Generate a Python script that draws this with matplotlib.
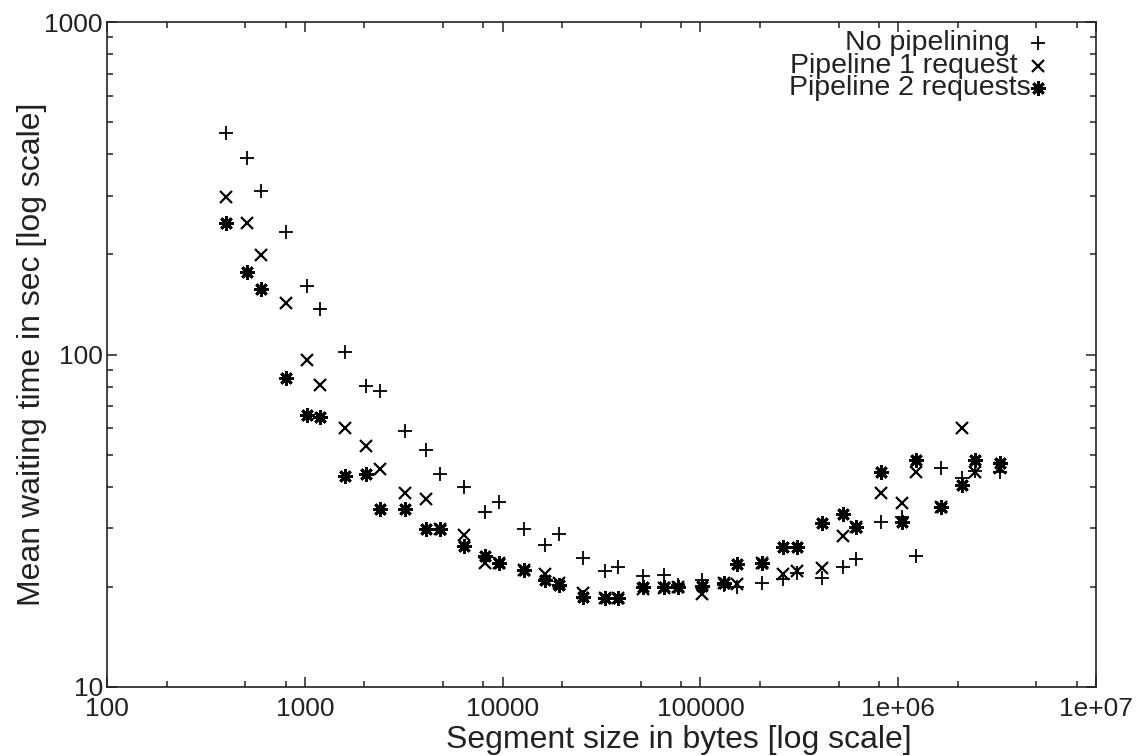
import numpy as np
import matplotlib
matplotlib.use("Agg")
import matplotlib.pyplot as plt
from matplotlib.ticker import LogLocator, NullFormatter

plt.rcParams['font.family'] = ['Liberation Sans', 'DejaVu Sans']

# segment sizes in bytes
seg_size = [400, 512, 600, 800, 1024, 1200, 1600, 2048, 2400, 3200,
            4096, 4800, 6400, 8192, 9600, 12800, 16384, 19200, 25600, 32768,
            38400, 51200, 65536, 76800, 102400, 131072, 153600, 204800, 262144, 307200,
            409600, 524288, 614400, 819200, 1048576, 1228800, 1638400, 2097152, 2457600, 3276800]

# mean waiting time (sec)
no_pipe = [463, 389, 310, 233, 161, 137.5, 101.5, 80.4, 77.5, 59.0,
           51.6, 43.6, 40.0, 33.6, 36.0, 29.8, 26.7, 28.8, 24.5, 22.4,
           23.0, 21.6, 21.7, 20.3, 21.0, 20.3, 20.0, 20.5, 21.1, 22.0,
           21.2, 23.0, 24.2, 31.3, 32.4, 24.7, 45.5, 42.5, 44.7, 44.4]
pipe1 = [298, 249, 199, 142.6, 96.3, 81.0, 60.0, 53.1, 45.1, 38.4,
         36.8, 29.8, 28.7, 23.6, 23.6, 22.5, 21.8, 20.6, 19.2, 18.5,
         18.5, 19.7, 19.8, 20.0, 19.0, 20.6, 20.4, 23.6, 21.9, 22.4,
         22.8, 28.5, 30.2, 38.2, 35.8, 44.4, 34.7, 60.2, 44.4, 45.5]
pipe2 = [248, 177.4, 157.1, 85.2, 65.8, 65.0, 43.1, 43.7, 34.2, 34.2,
         29.8, 29.8, 26.6, 24.8, 23.6, 22.5, 21.0, 20.3, 18.7, 18.5,
         18.5, 20.0, 20.0, 20.0, 20.1, 20.6, 23.4, 23.6, 26.4, 26.4,
         31.2, 33.1, 30.2, 44.4, 31.4, 48.2, 34.7, 40.5, 48.2, 47.1]

labels = ['No pipelining', 'Pipeline 1 request', 'Pipeline 2 requests']

xticks = [1e2, 1e3, 1e4, 1e5, 1e6, 1e7]
xticklabels = ['100', '1000', '10000', '100000', '1e+06', '1e+07']
yticks = [10, 100, 1000]
yticklabels = ['10', '100', '1000']

txt = '#222222'

fig = plt.figure(figsize=(11.48, 7.56), dpi=100)
ax = fig.add_axes([107 / 1148, 1 - 687 / 756, 989 / 1148, 665 / 756])

styles = [
    dict(marker='+', ms=10, mew=1.3),
    dict(marker='x', ms=8.5, mew=1.6),
    dict(marker=(8, 2, 0), ms=10.5, mew=2.0),
]
series = [no_pipe, pipe1, pipe2]

for ys, st in zip(series, styles):
    ax.plot(seg_size, ys, linestyle='none', color='black', **st)

ax.set_xscale('log')
ax.set_yscale('log')
ax.set_xlim(1e2, 1e7)
ax.set_ylim(10, 1000)

ax.set_xticks(xticks)
ax.set_xticklabels(xticklabels)
ax.set_yticks(yticks)
ax.set_yticklabels(yticklabels)
ax.xaxis.set_minor_locator(LogLocator(base=10, subs=(2, 5, 8)))
ax.yaxis.set_minor_locator(LogLocator(base=10, subs=np.arange(2, 10)))
ax.xaxis.set_minor_formatter(NullFormatter())
ax.yaxis.set_minor_formatter(NullFormatter())

ax.tick_params(which='both', direction='in', top=True, right=True,
               color=txt, width=1.1, labelsize=19, labelcolor=txt)
ax.tick_params(which='major', length=7.5)
ax.tick_params(which='minor', length=4.5)
ax.tick_params(axis='x', pad=7)
ax.tick_params(axis='y', pad=3)
for s in ax.spines.values():
    s.set_linewidth(1.2)
    s.set_color(txt)

# axis titles (bigger than the tick labels in the original)
ax.set_xlabel('Segment size in bytes [log scale]', fontsize=23, color=txt,
              ha='left', va='baseline')
ax.xaxis.set_label_coords(0.343, -0.092)
ax.set_ylabel('Mean waiting time in sec [log scale]', fontsize=23, color=txt,
              ha='center', va='center')
ax.yaxis.set_label_coords(-0.076, 0.5)

# gnuplot-style key: right-justified text (a bit uneven, as in the original), point to the right
key_x = [0.913, 0.921, 0.934]
key_y = [0.969, 0.934, 0.901]
for lab, st, kx, ky in zip(labels, styles, key_x, key_y):
    ax.text(kx, ky, lab, transform=ax.transAxes, ha='right', va='center',
            fontsize=20.5, color=txt)
    ax.plot([0.941], [ky], transform=ax.transAxes, color='black',
            linestyle='none', clip_on=False, **st)

fig.savefig('out.png', dpi=100)
